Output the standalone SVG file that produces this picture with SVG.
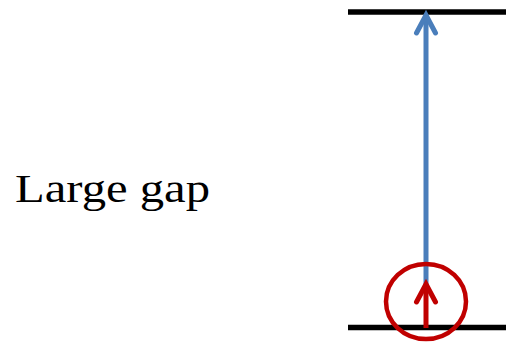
<svg xmlns="http://www.w3.org/2000/svg" width="506" height="346" viewBox="0 0 506 346">
<style>
.level{stroke:#000;stroke-width:5.5;fill:none}
.label{font-family:"Liberation Serif","Times New Roman",serif;font-size:41px;fill:#000}
</style>
<rect width="506" height="346" fill="#fff"/>
<g id="top-level"><line class="level" x1="348" y1="12" x2="506" y2="12"/></g>
<g id="bottom-level"><line class="level" x1="348" y1="327.5" x2="506" y2="327.5"/></g>
<g id="label"><text class="label" x="15" y="202" textLength="195" lengthAdjust="spacingAndGlyphs">Large gap</text></g>
<g id="connectors">
<line x1="426" y1="285" x2="426" y2="16" stroke="#4a7ebb" stroke-width="5"/>
<polyline points="416.5,33 426,15 435.5,33" fill="none" stroke="#4a7ebb" stroke-width="5" stroke-linecap="round" stroke-linejoin="miter"/>
</g>
<g id="electron">
<ellipse cx="426" cy="301.5" rx="40" ry="37.5" fill="none" stroke="#c00000" stroke-width="4.5"/>
<line x1="426" y1="328" x2="426" y2="285" stroke="#c00000" stroke-width="5"/>
<polyline points="416.5,302 426,284 435.5,302" fill="none" stroke="#c00000" stroke-width="5" stroke-linecap="round"/>
</g>
</svg>
